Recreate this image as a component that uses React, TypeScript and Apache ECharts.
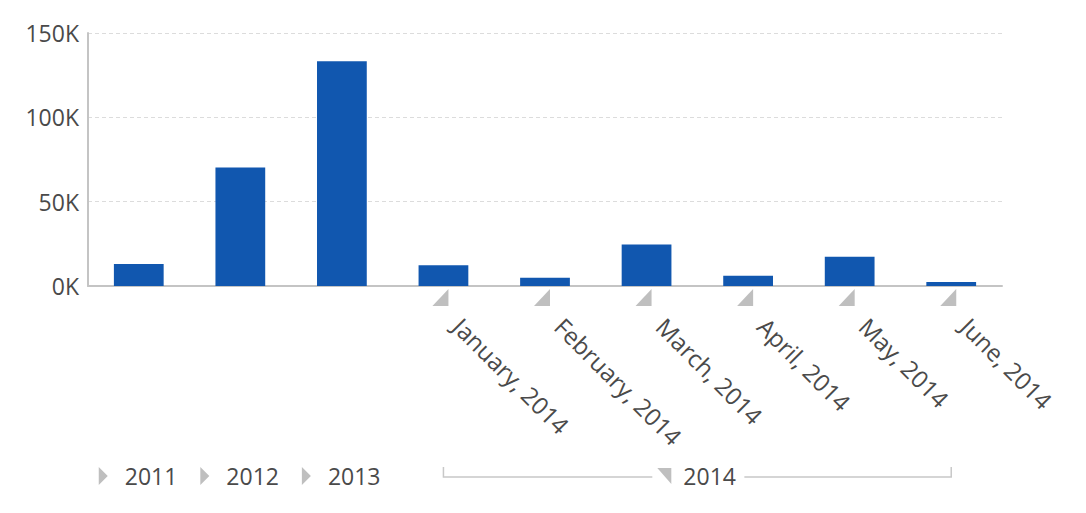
import React, { useEffect, useRef } from 'react';
import * as echarts from 'echarts';

const categories: string[] = [
  '2011', '2012', '2013',
  'January, 2014', 'February, 2014', 'March, 2014', 'April, 2014', 'May, 2014', 'June, 2014',
];
const values: number[] = [13100, 70200, 133300, 12300, 4900, 24600, 6100, 17300, 2400];
const collapsedYears: string[] = ['2011', '2012', '2013'];
const expandedYear = '2014';
const expandedFirst = 3;
const expandedLast = 8;
const yTicks: number[] = [0, 50000, 100000, 150000];

const FONT = '"Open Sans", Roboto, sans-serif';
const TEXT = '#4a4a4a';
const AXIS = '#c4c4c4';
const MARK = '#bfbfbf';

export default function App() {
  const ref = useRef<HTMLDivElement>(null);
  useEffect(() => {
    if (!ref.current) return;
    const chart = echarts.init(ref.current, undefined, { renderer: 'svg' });
    chart.setOption({
      animation: false,
      grid: { left: 88, right: 84, top: 33, bottom: 227, outerBoundsMode: 'none' },
      xAxis: {
        type: 'category',
        data: categories,
        axisLine: { lineStyle: { color: AXIS, width: 2 } },
        axisTick: { show: false },
        axisLabel: {
          interval: 0,
          rotate: -45,
          margin: 22,
          padding: [0, 0, 0, 20],
          color: TEXT,
          fontSize: 24,
          fontFamily: FONT,
          formatter: (v: string, i: number) => (i >= expandedFirst ? v : ''),
        },
      },
      yAxis: {
        type: 'value',
        min: yTicks[0],
        max: yTicks[yTicks.length - 1],
        interval: yTicks[1] - yTicks[0],
        axisLine: { show: true, lineStyle: { color: AXIS, width: 2 } },
        axisTick: { show: false },
        axisLabel: {
          margin: 9,
          color: TEXT,
          fontSize: 23,
          fontFamily: FONT,
          formatter: (v: number) => `${v / 1000}K`,
        },
        splitLine: { lineStyle: { color: '#dcdcdc', type: [4, 3], width: 1 } },
      },
      series: [
        {
          type: 'bar',
          data: values,
          barWidth: '49%',
          itemStyle: { color: '#1157af' },
        },
      ],
    });

    const cx = (i: number) => chart.convertToPixel({ xAxisIndex: 0 }, categories[i]) as number;
    const y0 = chart.convertToPixel({ yAxisIndex: 0 }, 0) as number;
    const rowY = 476;
    const textStyle = (text: string, x: number) => ({
      text,
      x,
      y: rowY,
      fill: TEXT,
      font: `23px ${FONT}`,
      align: 'left',
      verticalAlign: 'middle',
      textAlign: 'left',
      textVerticalAlign: 'middle',
    });
    const graphics: any[] = [];
    for (let i = expandedFirst; i <= expandedLast; i++) {
      const c = cx(i);
      graphics.push({
        type: 'polygon',
        shape: { points: [[c + 5, y0 + 3], [c + 5, y0 + 20], [c - 11, y0 + 20]] },
        style: { fill: MARK },
        silent: true,
      });
    }
    collapsedYears.forEach((yr) => {
      const i = categories.indexOf(yr);
      const c = cx(i);
      graphics.push({
        type: 'polygon',
        shape: { points: [[c - 40, rowY - 9], [c - 31, rowY], [c - 40, rowY + 9]] },
        style: { fill: MARK },
        silent: true,
      });
      graphics.push({ type: 'text', style: textStyle(yr, c - 14), silent: true });
    });
    const x1 = cx(expandedFirst);
    const x2 = cx(expandedLast);
    const m = (x1 + x2) / 2;
    graphics.push({
      type: 'polyline',
      shape: { points: [[x1, rowY - 9], [x1, rowY + 1], [m - 45, rowY + 1]] },
      style: { stroke: '#c8c8c8', lineWidth: 1.5, fill: null },
      silent: true,
    });
    graphics.push({
      type: 'polyline',
      shape: { points: [[m + 47, rowY + 1], [x2, rowY + 1], [x2, rowY - 9]] },
      style: { stroke: '#c8c8c8', lineWidth: 1.5, fill: null },
      silent: true,
    });
    graphics.push({
      type: 'polygon',
      shape: { points: [[m - 40, rowY - 8], [m - 26, rowY - 8], [m - 26, rowY + 8]] },
      style: { fill: MARK },
      silent: true,
    });
    graphics.push({ type: 'text', style: textStyle(expandedYear, m - 14), silent: true });
    chart.setOption({ graphic: graphics });

    return () => chart.dispose();
  }, []);
  return (
    <div
      ref={ref}
      style={{ position: 'absolute', left: 0, top: 0, width: 1086, height: 513, background: '#fff' }}
    />
  );
}
